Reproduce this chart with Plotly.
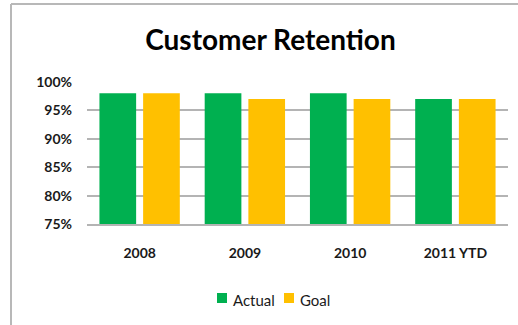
import plotly.graph_objects as go

# Customer retention by year, actual vs. goal
years = ["2008", "2009", "2010", "2011 YTD"]
actual = [0.98, 0.98, 0.98, 0.97]
goal = [0.98, 0.97, 0.97, 0.97]
series_names = ["Actual", "Goal"]

GREEN = "#00b050"
GOLD = "#ffc000"
GRID = "#b4b4b4"
TEXT = "#1a1a1a"
FONT = "Lato, 'Open Sans', sans-serif"

W, H = 518, 325
ML, MR, MT, MB = 87, 10, 82, 101
PW, PH = W - ML - MR, H - MT - MB

fig = go.Figure()
fig.add_trace(go.Bar(name=series_names[0], x=years, y=actual,
                     marker=dict(color=GREEN, line=dict(width=0))))
fig.add_trace(go.Bar(name=series_names[1], x=years, y=goal,
                     marker=dict(color=GOLD, line=dict(width=0))))


def px_x(p):
    return (p - ML) / PW


def px_y(p):
    return (H - MB - p) / PH


# outer chart frame (top and left edges)
frame = dict(color="#b8b8b8", width=2)
fig.add_shape(type="line", xref="paper", yref="paper",
              x0=px_x(11), x1=px_x(520), y0=px_y(4), y1=px_y(4), line=frame)
fig.add_shape(type="line", xref="paper", yref="paper",
              x0=px_x(11), x1=px_x(11), y0=px_y(4), y1=px_y(330), line=frame)

# compact legend: colour swatch followed closely by the series name
legend_items = [(series_names[0], GREEN, 217), (series_names[1], GOLD, 284)]
for name, color, left in legend_items:
    fig.add_shape(type="rect", xref="paper", yref="paper",
                  x0=px_x(left), x1=px_x(left + 10), y0=px_y(293), y1=px_y(303),
                  fillcolor=color, line=dict(width=0))
    fig.add_annotation(text=name, xref="paper", yref="paper",
                       x=px_x(left + 14), y=px_y(299.5), xanchor="left", yanchor="middle",
                       showarrow=False, font=dict(size=15, family=FONT, color=TEXT))

fig.update_layout(
    width=W, height=H,
    margin=dict(l=ML, r=MR, t=MT, b=MB, autoexpand=False),
    paper_bgcolor="white", plot_bgcolor="white",
    barmode="group", bargap=0.17, bargroupgap=0.16,
    font=dict(family=FONT, color=TEXT),
    title=dict(text="<b>Customer Retention</b>", font=dict(size=28, family=FONT, color="#000000"),
               x=px_x(270.5), xref="paper", xanchor="center",
               y=1 - 40 / H, yref="container", yanchor="middle"),
    showlegend=False,
    xaxis=dict(showgrid=False, showline=True, linecolor=GRID, linewidth=2,
               ticks="", tickfont=dict(size=14, family=FONT, color=TEXT),
               ticklabelstandoff=15,
               tickvals=years, ticktext=["<b>%s</b>" % y for y in years]),
    yaxis=dict(range=[0.75, 1.0],
               tickvals=[0.75, 0.80, 0.85, 0.90, 0.95, 1.0],
               ticktext=["<b>%d%%</b>" % v for v in (75, 80, 85, 90, 95, 100)],
               showgrid=True, gridcolor=GRID, gridwidth=2, zeroline=False,
               showline=False, ticks="", ticklabelstandoff=14,
               tickfont=dict(size=14, family=FONT, color=TEXT)),
)

fig.write_html("out.html")
